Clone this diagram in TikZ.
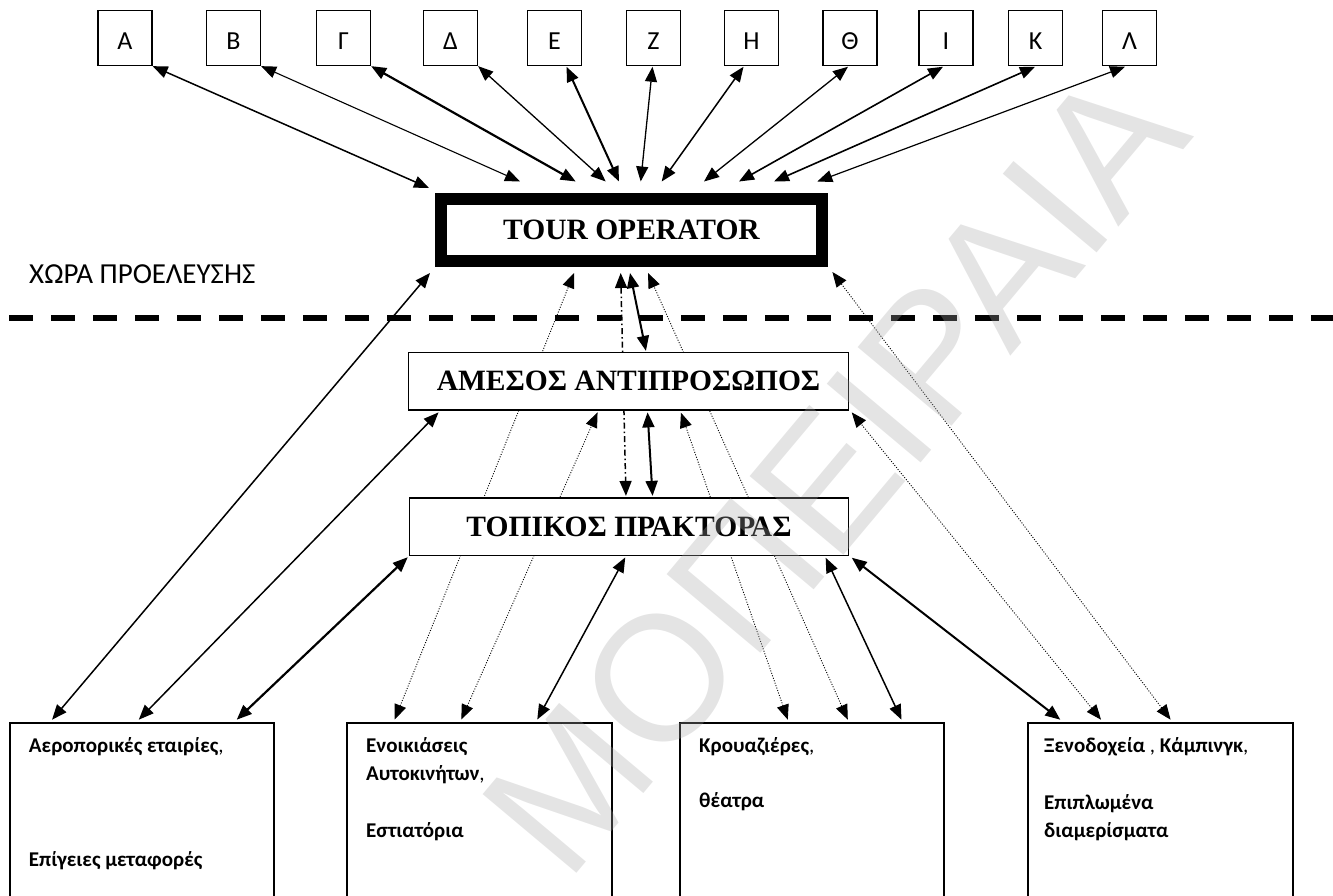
\documentclass[tikz,border=0pt]{standalone}
\usepackage{fontspec}
\setmainfont{Liberation Serif}
\newfontfamily\calibfont{Carlito}
\newfontfamily\wmfont{Liberation Sans}
\usetikzlibrary{arrows.meta}
\pgfdeclarelayer{background}
\pgfdeclarelayer{foreground}
\pgfsetlayers{background,main,foreground}

\begin{document}
\begin{tikzpicture}[x=1pt,y=-1pt,
  letterbox/.style={draw,line width=1.3pt,minimum width=54pt,minimum height=55pt,inner sep=0pt,
    font=\calibfont\fontsize{26}{30}\selectfont,text height=24pt,text depth=0pt},
  headbox/.style={draw,fill=white,inner sep=0pt,
    font=\bfseries\fontsize{29.5}{33}\selectfont,text height=19.5pt,text depth=0pt},
  firmbox/.style={draw,line width=2pt,minimum height=237.5pt,inner sep=0pt},
  itemtext/.style={anchor=base west,inner sep=0pt},
  twoway/.style={{Triangle[length=15pt,width=12pt]}-{Triangle[length=15pt,width=12pt]},line width=#1},
  twoway/.default=1.5pt,
  dotlink/.style={twoway=0.9pt,dash pattern=on 1pt off 1.6pt},
  dashdotlink/.style={twoway=1.5pt,dash pattern=on 6pt off 3pt on 1.5pt off 3pt}]

\useasboundingbox (0,0) rectangle (1333,896);
\clip (0,0) rectangle (1333,896);

% partners in the country of origin
\node[letterbox] (bA) at (125,38) {Α};
\node[letterbox] (bB) at (233.5,38) {Β};
\node[letterbox] (bG) at (343.5,38) {Γ};
\node[letterbox] (bD) at (450.5,38) {Δ};
\node[letterbox] (bE) at (554.5,38) {Ε};
\node[letterbox] (bZ) at (653.5,38) {Ζ};
\node[letterbox] (bH) at (751.5,38) {Η};
\node[letterbox] (bTh) at (850,38) {Θ};
\node[letterbox] (bI) at (946,38) {Ι};
\node[letterbox] (bK) at (1035.5,38) {Κ};
\node[letterbox] (bL) at (1129.5,38) {Λ};

% main actors
\node[headbox,line width=12pt,minimum width=381pt,minimum height=62pt] (tour) at (631.5,230) {TOUR OPERATOR};
\node[headbox,line width=1.5pt,minimum width=440pt,minimum height=57.5pt] (agent) at (628.5,381.2) {ΑΜΕΣΟΣ ΑΝΤΙΠΡΟΣΩΠΟΣ};
\node[headbox,line width=1.5pt,minimum width=439pt,minimum height=57.5pt] (local) at (629,526.7) {ΤΟΠΙΚΟΣ ΠΡΑΚΤΟΡΑΣ};

\node[itemtext,font=\calibfont\fontsize{29}{33}\selectfont] (origin) at (29,283) {ΧΩΡΑ ΠΡΟΕΛΕΥΣΗΣ};

% service providers
\node[firmbox,minimum width=264.3pt] (f1) at (141.9,841.25) {};
\node[firmbox,minimum width=265pt] (f2) at (479.5,841.25) {};
\node[firmbox,minimum width=264pt] (f3) at (812,841.25) {};
\node[firmbox,minimum width=265pt] (f4) at (1160.5,841.25) {};

\begin{scope}[every node/.style={itemtext,font=\calibfont\bfseries\fontsize{21}{28.5}\selectfont}]
\node (f1t) at ([shift={(20,30.5)}]f1.north west)
  {\parbox[t]{245pt}{Αεροπορικές εταιρίες{\mdseries,}\\[86pt]Επίγειες μεταφορές}};
\node (f2t) at ([shift={(20,30.5)}]f2.north west)
  {\parbox[t]{245pt}{Ενοικιάσεις\\Αυτοκινήτων{\mdseries,}\\[28.5pt]Εστιατόρια}};
\node (f3t) at ([shift={(20,30.5)}]f3.north west)
  {\parbox[t]{245pt}{Κρουαζιέρες{\mdseries,}\\[27pt]θέατρα}};
\node (f4t) at ([shift={(17,30.5)}]f4.north west)
  {\parbox[t]{245pt}{Ξενοδοχεία {\mdseries,} Κάμπινγκ{\mdseries,}\\[28.5pt]Επιπλωμένα\\διαμερίσματα}};
\end{scope}

\begin{pgfonlayer}{background}
  % border between the country of origin and the destination
  \coordinate (sepL) at (9,318);
  \coordinate (sepR) at (1345,318);
  \draw[line width=5.5pt,dash pattern=on 24pt off 18pt] (sepL) -- (sepR);

  % partners <-> tour operator
  \draw[twoway=1.5pt] (bA.south east) -- ([shift={(-6,-5)}]tour.north west);
  \draw[twoway=1.1pt] (bB.south east) -- ([shift={(85,-11.5)}]tour.north west);
  \draw[twoway=2.2pt] (bG.south east) -- ([shift={(140.7,-11.5)}]tour.north west);
  \draw[twoway=1.3pt] (bD.south east) -- ([shift={(170.7,-11.5)}]tour.north west);
  \draw[twoway=2pt] ([shift={(12,0.6)}]bE.south) -- ([shift={(184,-11.5)}]tour.north west);
  \draw[twoway=1.3pt] ([shift={(-1,0.6)}]bZ.south) -- ([shift={(205.7,-11.5)}]tour.north west);
  \draw[twoway=1.5pt] ([shift={(-8,0.6)}]bH.south) -- ([shift={(226.7,-11.5)}]tour.north west);
  \draw[twoway=1.3pt] ([shift={(-2,0.6)}]bTh.south) -- ([shift={(269,-11.5)}]tour.north west);
  \draw[twoway=1.6pt] ([shift={(-3,0.6)}]bI.south) -- ([shift={(304,-11.5)}]tour.north west);
  \draw[twoway=1.6pt] ([shift={(-0.5,0.6)}]bK.south) -- ([shift={(339,-11.5)}]tour.north west);
  \draw[twoway=1.2pt] ([shift={(-4.5,0.6)}]bL.south) -- ([shift={(382.3,-11.5)}]tour.north west);

  % chain of intermediaries
  \draw[dashdotlink] ([shift={(185.7,6)}]tour.south west) -- ([shift={(217.2,-1.3)}]local.north west);
  \draw[twoway=2pt] ([shift={(195,6)}]tour.south west) -- ([shift={(238.2,-0.8)}]agent.north west);
  \draw[twoway=2pt] ([shift={(239.8,1.7)}]agent.south west) -- ([shift={(243.8,-1.3)}]local.north west);

  % air and ground transport
  \draw[twoway=1.5pt] ([shift={(43.3,-1.8)}]f1.north west) -- ([shift={(-5,6)}]tour.south west);
  \draw[twoway=1.5pt] ([shift={(130,-1.8)}]f1.north west) -- ([shift={(30.8,1.7)}]agent.south west);
  \draw[twoway=2.2pt] ([shift={(228,-1.8)}]f1.north west) -- ([shift={(-1,1)}]local.south west);

  % car hire, restaurants
  \draw[dotlink] ([shift={(48.7,-2)}]f2.north west) -- ([shift={(139,6)}]tour.south west);
  \draw[dotlink] ([shift={(115.3,-2)}]f2.north west) -- ([shift={(189.8,1.7)}]agent.south west);
  \draw[twoway=1.5pt] ([shift={(191.3,-2)}]f2.north west) -- ([shift={(216.5,1.2)}]local.south west);

  % cruises, theatres
  \draw[dotlink] ([shift={(108.8,-1.8)}]f3.north west) -- ([shift={(273.2,2)}]agent.south west);
  \draw[dotlink] ([shift={(168.8,-1.8)}]f3.north west) -- ([shift={(213,6)}]tour.south west);
  \draw[twoway=1.5pt] ([shift={(222.5,-1.8)}]f3.north west) -- ([shift={(416.9,1.5)}]local.south west);

  % accommodation
  \draw[twoway=2pt] ([shift={(33.3,-1.8)}]f4.north west) -- ([shift={(2.5,1.5)}]local.south east);
  \draw[dotlink] ([shift={(74,-1.8)}]f4.north west) -- ([shift={(2.5,1.7)}]agent.south east);
  \draw[dotlink] ([shift={(143.6,-1.8)}]f4.north west) -- ([shift={(4.4,5)}]tour.south east);
\end{pgfonlayer}

\begin{pgfonlayer}{foreground}
  \node[rotate=50,text=black!35,opacity=0.3,inner sep=0pt,
        font=\wmfont\fontsize{178}{184}\selectfont] (stamp) at (834,471) {ΜΟΠΕΙΡΑΙΑ};
\end{pgfonlayer}
\end{tikzpicture}
\end{document}
